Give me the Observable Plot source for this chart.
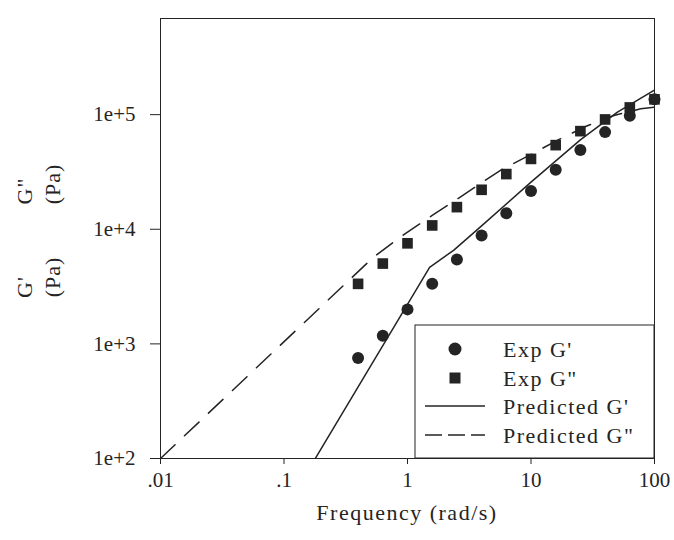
<!DOCTYPE html>
<html><head><meta charset="utf-8">
<script src="https://cdn.jsdelivr.net/npm/d3@7"></script>
<script src="https://cdn.jsdelivr.net/npm/@observablehq/plot@0.6"></script>
<style>
html,body{margin:0;padding:0;background:#fff;}
</style></head><body><div id="chart"></div>
<script>
// Experimental data (frequency in rad/s, moduli in Pa)
const freq = [0.398, 0.631, 1, 1.585, 2.512, 3.981, 6.31, 10, 15.85, 25.12, 39.81, 63.1, 100];
const expGp = [754, 1180, 2000, 3340, 5450, 8830, 13800, 21600, 33000, 49200, 70400, 98000, 136000];
const expGpp = [3340, 5020, 7540, 10800, 15600, 22100, 30300, 41100, 54200, 71800, 90800, 115600, 136000];
// Predicted curves
const predGpFreq = [0.01, 1.51, 2.36, 3.98, 10, 25.1, 50.1, 100];
const predGp = [0.55, 4660, 6550, 10700, 25800, 60300, 105000, 164000];
const predGppFreq = [0.01, 0.532, 0.875, 1.585, 2.44, 5.66, 10.26, 16.3, 27.7, 47, 77.4, 100];
const predGpp = [100, 5730, 8550, 13200, 17900, 32700, 45600, 59600, 78900, 98400, 112500, 116000];
// Ticks
const xTicks = [0.01, 0.1, 1, 10, 100];
const xTickLabels = [".01", ".1", "1", "10", "100"];
const yTicks = [1e2, 1e3, 1e4, 1e5];
const yTickLabels = ["1e+2", "1e+3", "1e+4", "1e+5"];
const legendLabels = ["Exp G'", 'Exp G"', "Predicted G'", 'Predicted G"'];
const xLabel = "Frequency (rad/s)";
const yLabelTop = ['G"', "(Pa)"];
const yLabelBottom = ["G'", "(Pa)"];

const ink = "#242424";
const W = 674, H = 540, mL = 160, mR = 20, mT = 18, mB = 82;

const expData = freq.map((f, i) => ({f, gp: expGp[i], gpp: expGpp[i]}));
const gpLine = predGpFreq.map((f, i) => ({f, v: predGp[i]}));
const gppLine = predGppFreq.map((f, i) => ({f, v: predGpp[i]}));

const plot = Plot.plot({
  width: W, height: H,
  marginLeft: mL, marginRight: mR, marginTop: mT, marginBottom: mB,
  style: {fontFamily: "'Liberation Serif', 'Times New Roman', serif", fontSize: "21px", color: ink, background: "#fff", overflow: "visible"},
  x: {type: "log", domain: [0.01, 100], ticks: xTicks, tickFormat: d => xTickLabels[xTicks.indexOf(d)], tickSize: 6, tickPadding: 8, label: null},
  y: {type: "log", domain: [100, 6.9e5], ticks: yTicks, tickFormat: d => yTickLabels[yTicks.indexOf(d)], tickSize: 10, tickPadding: 15, label: null},
  marks: [
    Plot.frame({stroke: ink, strokeWidth: 1}),
    Plot.line(gppLine, {x: "f", y: "v", stroke: ink, strokeWidth: 1.5, strokeDasharray: "20,13", clip: true}),
    Plot.line(gpLine, {x: "f", y: "v", stroke: ink, strokeWidth: 1.5, clip: true}),
    Plot.dot(expData, {x: "f", y: "gp", r: 6, fill: ink, stroke: "none", symbol: "circle"}),
    Plot.dot(expData, {x: "f", y: "gpp", r: 6, fill: ink, stroke: "none", symbol: "square"})
  ]
});

const svg = d3.select(plot);
// x axis title
svg.append("text")
  .attr("x", (mL + W - mR) / 2).attr("y", 520)
  .attr("text-anchor", "middle")
  .attr("fill", ink)
  .style("font-size", "22px").style("letter-spacing", "1.5px")
  .text(xLabel);
// y axis titles (rotated, two columns)
function vtext(x, y, s) {
  svg.append("text")
    .attr("transform", `translate(${x},${y}) rotate(-90)`)
    .attr("text-anchor", "middle").attr("fill", ink)
    .style("font-size", "22px").style("letter-spacing", "1px")
    .text(s);
}
vtext(32, 287, yLabelBottom[0]);
vtext(60, 277, yLabelBottom[1]);
vtext(32, 191, yLabelTop[0]);
vtext(60, 184, yLabelTop[1]);

// legend
const lg = svg.append("g").attr("text-anchor", "start");
const lx0 = 415, ly0 = 325, lx1 = W - mR, ly1 = H - mB;
lg.append("rect").attr("x", lx0).attr("y", ly0).attr("width", lx1 - lx0).attr("height", ly1 - ly0)
  .attr("fill", "#fff").attr("stroke", ink).attr("stroke-width", 1);
const rowY = [349, 378, 406, 435];
lg.append("circle").attr("cx", 455).attr("cy", rowY[0]).attr("r", 6.5).attr("fill", ink);
lg.append("rect").attr("x", 449.5).attr("y", rowY[1] - 5.5).attr("width", 11).attr("height", 11).attr("fill", ink);
lg.append("line").attr("x1", 425).attr("x2", 485).attr("y1", rowY[2]).attr("y2", rowY[2]).attr("stroke", ink).attr("stroke-width", 1.5);
lg.append("line").attr("x1", 425).attr("x2", 485).attr("y1", rowY[3]).attr("y2", rowY[3]).attr("stroke", ink).attr("stroke-width", 1.5).attr("stroke-dasharray", "17,6");
legendLabels.forEach((t, i) => {
  lg.append("text").attr("x", 503).attr("y", rowY[i] + 7.5)
    .attr("text-anchor", "start")
    .attr("fill", ink).style("font-size", "22px").style("letter-spacing", "1.5px")
    .text(t);
});

document.getElementById("chart").appendChild(plot);
</script>
</body></html>
